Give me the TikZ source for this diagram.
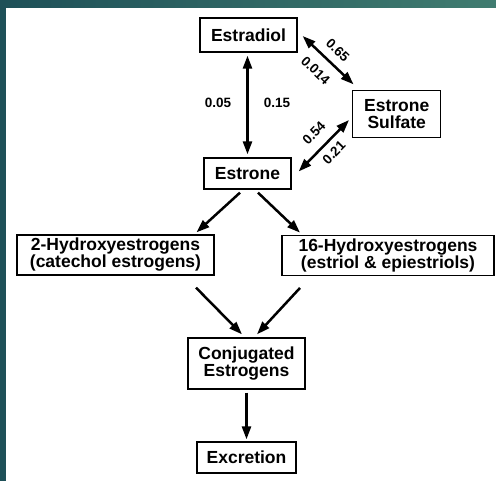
\documentclass[tikz,border=0pt]{standalone}
\usepackage{fontspec}
\setmainfont{Liberation Sans}
\usepackage{xcolor}
\usepackage{tikz}
\usetikzlibrary{arrows.meta, calc}

\definecolor{framedark}{RGB}{30,80,88}
\definecolor{framelight}{RGB}{64,124,112}

\begin{document}
\begin{tikzpicture}[x=1pt, y=-1pt,
        box/.style={draw, line width=1.3pt, align=center, inner sep=0pt,
            font=\fontsize{17.5}{17}\selectfont\bfseries},
        flow/.style={line width=2.5pt, -{Triangle[length=13pt, width=9pt]}},
        both/.style={line width=2.5pt, {Triangle[length=13pt, width=9pt]}-{Triangle[length=13pt, width=9pt]}},
        rate/.style={font=\fontsize{13.5}{13.5}\selectfont\bfseries, inner sep=0pt}]
        % 边框与背景
        \useasboundingbox (0,0) rectangle (496,481);
        \fill[white] (6,8) rectangle (496,481);
        \fill[framedark] (0,0) rectangle (6,481);
        \shade[left color=framedark, right color=framelight] (0,0) rectangle (496,8);

        % 方框
        \node[box, minimum width=97pt, minimum height=34pt] (estradiol) at (248.5,35) {Estradiol};
        \node[box, minimum width=88pt, minimum height=47pt] (sulfate) at (396.7,114) {Estrone\\Sulfate};
        \node[box, minimum width=87pt, minimum height=31pt] (estrone) at (247.5,173.5) {Estrone};
        \node[box, minimum width=197pt, minimum height=40pt] (twohydroxy) at (115.5,255) {2-Hydroxyestrogens\\(catechol estrogens)};
        \node[box, minimum width=212pt, minimum height=40pt] (sixteenhydroxy) at (388,255.3) {16-Hydroxyestrogens\\(estriol \& epiestriols)};
        \node[box, minimum width=117pt, minimum height=51pt] (conjugated) at (246.5,363.5) {Conjugated\\Estrogens};
        \node[box, minimum width=99pt, minimum height=31pt] (excretion) at (246.5,457.5) {Excretion};

        % 可逆转化及速率
        \draw[both] ($(estradiol.south)+(-1,3)$) -- ($(estradiol.south |- estrone.north)+(-1,-3)$)
            node[rate, pos=.48, left=15pt] {0.05}
            node[rate, pos=.48, right=15pt] {0.15};
        \draw[both] ($(estradiol.east)+(5,1)$) -- ($(sulfate.north west)+(1.5,-5.5)$)
            node[rate, midway, sloped, above=8pt] {0.65}
            node[rate, pos=.47, sloped, below=10pt] {0.014};
        \draw[both] ($(estrone.east)+(7,-2)$) -- ($(sulfate.west)+(-3,6)$)
            node[rate, pos=.53, sloped, above=10pt] {0.54}
            node[rate, pos=.53, sloped, below=6pt] {0.21};

        % 代谢与排泄
        \draw[flow] ($(estrone.south)+(-7.5,3)$) -- ($(twohydroxy.north)+(81,-2)$);
        \draw[flow] ($(estrone.south)+(10.5,3)$) -- ($(sixteenhydroxy.north)+(-88,-2)$);
        \draw[flow] ($(twohydroxy.south)+(80.5,12)$) -- ($(conjugated.north)+(-4.5,-3)$);
        \draw[flow] ($(sixteenhydroxy.south)+(-88,12)$) -- ($(conjugated.north)+(10.5,-3)$);
        \draw[flow] ($(conjugated.south)+(0,3)$) -- ($(excretion.north)+(0,-2)$);
\end{tikzpicture}
\end{document}
